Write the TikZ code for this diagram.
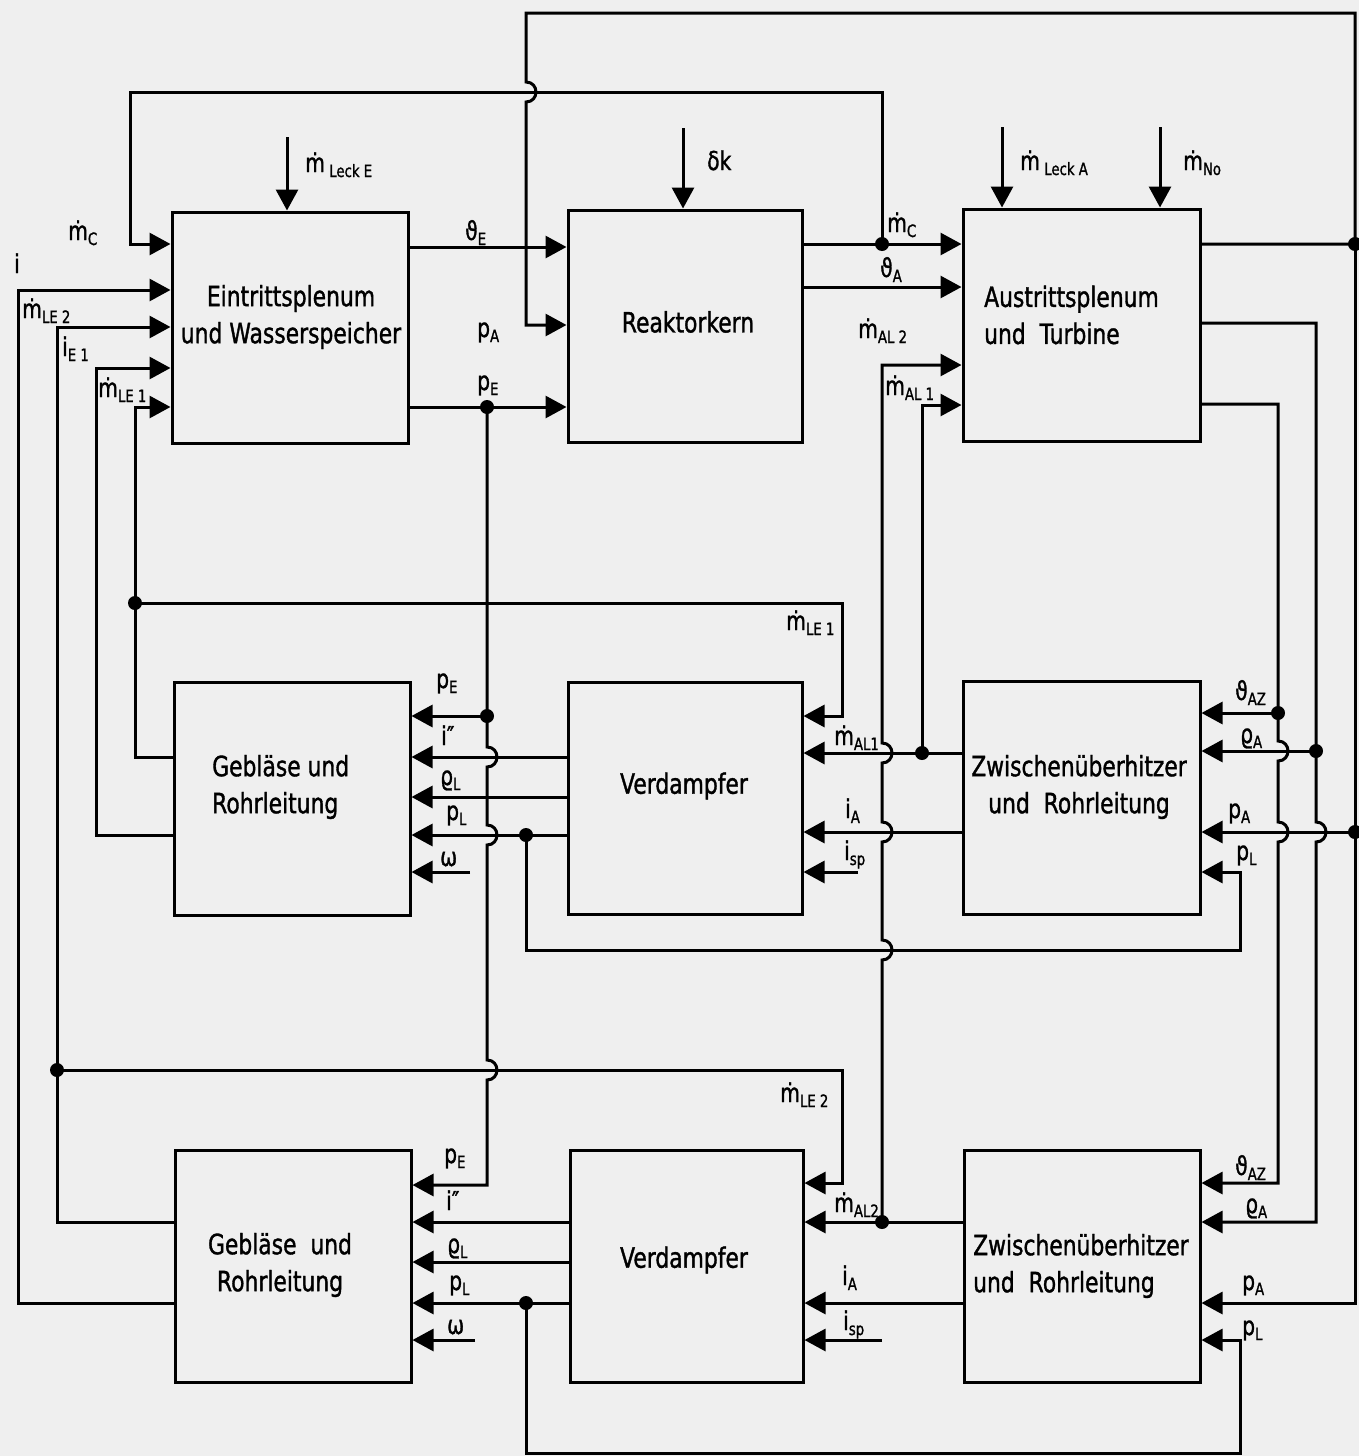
\documentclass[tikz,border=0pt]{standalone}
\usepackage{fontspec}
\setmainfont{DejaVu Sans}[FakeStretch=0.78,FakeBold=1.2]
\usetikzlibrary{arrows.meta}
\definecolor{bg}{RGB}{239,239,239}
\newcommand\sbs[1]{\raisebox{-5pt}{\fontsize{17}{17}\selectfont #1}}
\begin{document}
\begin{tikzpicture}[x=1pt,y=-1pt,
  wire/.style={line width=3pt},
  sig/.style={line width=3pt,-{Triangle[length=21pt,width=22pt]}},
  box/.style={draw,line width=3pt,fill=bg,inner sep=0pt},
  lab/.style={font=\fontsize{26}{26}\selectfont,inner sep=0pt,anchor=base west},
  btxt/.style={font=\fontsize{28}{37}\selectfont,inner sep=0pt,align=center},
  jdot/.style={fill=black},
]
\fill[bg] (0,0) rectangle (1359,1456);
\useasboundingbox (0,0) rectangle (1359,1456);

% boxes
\node[box,minimum width=236,minimum height=231] (E)  at (290,327.5) {};
\node[box,minimum width=234,minimum height=232] (R)  at (685,326) {};
\node[box,minimum width=237,minimum height=232] (A)  at (1081.5,325) {};
\node[box,minimum width=236,minimum height=233] (G1) at (292,798.5) {};
\node[box,minimum width=234,minimum height=232] (V1) at (685,798) {};
\node[box,minimum width=237,minimum height=233] (Z1) at (1081.5,797.5) {};
\node[box,minimum width=236,minimum height=232] (G2) at (293,1266) {};
\node[box,minimum width=233,minimum height=232] (V2) at (686.5,1266) {};
\node[box,minimum width=236,minimum height=232] (Z2) at (1082,1266) {};

% box texts
\node[btxt] (tE) at (291,317) {Eintrittsplenum\\und Wasserspeicher};
\node[btxt] (tR) at (688,322) {Reaktorkern};
\node[btxt,anchor=west,align=left] (tA) at (984,315) {Austrittsplenum\\und\ \ Turbine};
\node[btxt,anchor=west,align=left] (tG1) at (212,787) {Gebläse und\\Rohrleitung};
\node[btxt] (tV1) at (684,786) {Verdampfer};
\node[btxt] (tZ1) at (1079,787) {Zwischenüberhitzer\\und\ \ Rohrleitung};
\node[btxt] (tG2) at (280,1265) {Gebläse\ \ und\\Rohrleitung};
\node[btxt] (tV2) at (684,1260) {Verdampfer};
\node[btxt,anchor=west,align=left] (tZ2) at (973,1266) {Zwischenüberhitzer\\und\ \ Rohrleitung};

% free ends and junctions
\coordinate (sLE) at (287,137);
\coordinate (sdk) at (683,128);
\coordinate (sLA) at (1002,127);
\coordinate (sNo) at (1160,127);
\coordinate (w1) at (470,872);
\coordinate (w2) at (475,1340);
\coordinate (isp1) at (858,872);
\coordinate (isp2) at (882,1340);
\coordinate (jC) at (882,244);
\coordinate (jpE) at (487,407);
\coordinate (jpA) at (1355,244);
\coordinate (jLE1) at (135,603);
\coordinate (jLE2) at (57,1070);
\coordinate (jpE1) at (487,716);
\coordinate (jpL1) at (526,835);
\coordinate (jpL2) at (526,1303);
\coordinate (jAL1) at (922,753);
\coordinate (jAL2) at (882,1222);
\coordinate (jAZ1) at (1278,713);
\coordinate (jrA1) at (1316,751);
\coordinate (jpA1) at (1355,832);

% external inputs from top
\draw[sig] (sLE) -- (E.north -| sLE);
\draw[sig] (sdk) -- (R.north -| sdk);
\draw[sig] (sLA) -- (A.north -| sLA);
\draw[sig] (sNo) -- (A.north -| sNo);

% top row connections
\draw[sig] (E.east |- 0,247) -- (R.west |- 0,247);
\draw[sig] (E.east |- 0,407) -- (R.west |- 0,407);
\draw[sig] (R.east |- 0,244) -- (A.west |- 0,244);
\draw[sig] (R.east |- 0,287) -- (A.west |- 0,287);
\draw[sig] (jC) -- (882,92) -- (130,92) -- (130,244) -- (E.west |- 0,244);
\draw[sig] (A.east |- 0,244) -- (1355,244) -- (1355,13) -- (526,13) -- (526,82)
  .. controls (539.3,82) and (539.3,102) .. (526,102) -- (526,325) -- (R.west |- 0,325);

% right side feedback
\draw[sig] (jpA) -- (1355,1303) -- (Z2.east |- 0,1303);
\draw[sig] (jpA1) -- (Z1.east |- 0,832);
\draw[sig] (A.east |- 0,323) -- (1316,323) -- (1316,822)
  .. controls (1329.3,822) and (1329.3,842) .. (1316,842) -- (1316,1222) -- (Z2.east |- 0,1222);
\draw[sig] (jrA1) -- (Z1.east |- 0,751);
\draw[sig] (A.east |- 0,404) -- (1278,404) -- (1278,741)
  .. controls (1291.3,741) and (1291.3,761) .. (1278,761) -- (1278,822)
  .. controls (1291.3,822) and (1291.3,842) .. (1278,842) -- (1278,1183) -- (Z2.east |- 0,1183);
\draw[sig] (jAZ1) -- (Z1.east |- 0,713);
\draw[sig] (jpL1) -- (526,950) -- (1240,950) -- (1240,872) -- (Z1.east |- 0,872);
\draw[sig] (jpL2) -- (526,1453) -- (1240,1453) -- (1240,1340) -- (Z2.east |- 0,1340);

% Zwischenueberhitzer -> Verdampfer / Austrittsplenum
\draw[sig] (jAL2) -- (882,960) .. controls (895.3,960) and (895.3,940) .. (882,940)
  -- (882,842) .. controls (895.3,842) and (895.3,822) .. (882,822)
  -- (882,763) .. controls (895.3,763) and (895.3,743) .. (882,743)
  -- (882,365) -- (A.west |- 0,365);
\draw[sig] (Z2.west |- 0,1222) -- (V2.east |- 0,1222);
\draw[sig] (Z1.west |- 0,753) -- (V1.east |- 0,753);
\draw[sig] (jAL1) -- (922,405) -- (A.west |- 0,405);
\draw[sig] (Z1.west |- 0,832) -- (V1.east |- 0,832);
\draw[sig] (Z2.west |- 0,1303) -- (V2.east |- 0,1303);
\draw[sig] (isp1) -- (V1.east |- isp1);
\draw[sig] (isp2) -- (V2.east |- isp2);

% leakage mass flows
\draw[sig] (jLE1) -- (842,603) -- (842,716) -- (V1.east |- 0,716);
\draw[sig] (jLE2) -- (842,1070) -- (842,1183) -- (V2.east |- 0,1183);
\draw[sig] (G1.west |- 0,757) -- (135,757) -- (135,407) -- (E.west |- 0,407);
\draw[sig] (G1.west |- 0,835) -- (96,835) -- (96,368) -- (E.west |- 0,368);
\draw[sig] (G2.west |- 0,1222) -- (57,1222) -- (57,327) -- (E.west |- 0,327);
\draw[sig] (G2.west |- 0,1303) -- (18,1303) -- (18,290) -- (E.west |- 0,290);

% Verdampfer -> Geblaese
\draw[sig] (V1.west |- 0,757) -- (G1.east |- 0,757);
\draw[sig] (V1.west |- 0,797) -- (G1.east |- 0,797);
\draw[sig] (V1.west |- 0,835) -- (G1.east |- 0,835);
\draw[sig] (V2.west |- 0,1222) -- (G2.east |- 0,1222);
\draw[sig] (V2.west |- 0,1262) -- (G2.east |- 0,1262);
\draw[sig] (V2.west |- 0,1303) -- (G2.east |- 0,1303);
\draw[sig] (jpE) -- (487,747) .. controls (500.3,747) and (500.3,767) .. (487,767)
  -- (487,825) .. controls (500.3,825) and (500.3,845) .. (487,845)
  -- (487,1060) .. controls (500.3,1060) and (500.3,1080) .. (487,1080)
  -- (487,1185) -- (G2.east |- 0,1185);
\draw[sig] (jpE1) -- (G1.east |- 0,716);
\draw[sig] (w1) -- (G1.east |- w1);
\draw[sig] (w2) -- (G2.east |- w2);

% junction dots
\foreach \j in {jC,jpE,jpA,jLE1,jLE2,jpE1,jpL1,jpL2,jAL1,jAL2,jAZ1,jrA1,jpA1}
  \fill[jdot] (\j) circle[radius=7pt];

% labels
\node[lab] (l1) at (68,240) {ṁ\sbs{C}};
\node[lab] (l2) at (14,273) {i};
\node[lab] (l3) at (22,318) {ṁ\sbs{LE 2}};
\node[lab] (l4) at (62,356) {i\sbs{E 1}};
\node[lab] (l5) at (98,397) {ṁ\sbs{LE 1}};
\node[lab] (l6) at (305,172) {ṁ\,\sbs{Leck E}};
\node[lab] (l7) at (707,170) {δk};
\node[lab] (l8) at (1020,170) {ṁ\,\sbs{Leck A}};
\node[lab] (l9) at (1183,170) {ṁ\sbs{No}};
\node[lab] (l10) at (465,240) {ϑ\sbs{E}};
\node[lab] (l11) at (477,337) {p\sbs{A}};
\node[lab] (l12) at (477,390) {p\sbs{E}};
\node[lab] (l13) at (887,232) {ṁ\sbs{C}};
\node[lab] (l14) at (880,277) {ϑ\sbs{A}};
\node[lab] (l15) at (858,338) {ṁ\sbs{AL 2}};
\node[lab] (l16) at (885,395) {ṁ\sbs{AL 1}};
\node[lab] (l17) at (786,630) {ṁ\sbs{LE 1}};
\node[lab] (l18) at (436,688) {p\sbs{E}};
\node[lab] (l19) at (441,745) {i″};
\node[lab] (l20) at (440,785) {ϱ\sbs{L}};
\node[lab] (l21) at (446,820) {p\sbs{L}};
\node[lab] (l22) at (440,866) {ω};
\node[lab] (l23) at (834,745) {ṁ\sbs{AL1}};
\node[lab] (l24) at (845,818) {i\sbs{A}};
\node[lab] (l25) at (844,860) {i\sbs{sp}};
\node[lab] (l26) at (1235,700) {ϑ\sbs{AZ}};
\node[lab] (l27) at (1240,743) {ϱ\sbs{A}};
\node[lab] (l28) at (1228,818) {p\sbs{A}};
\node[lab] (l29) at (1236,860) {p\sbs{L}};
\node[lab] (l30) at (780,1102) {ṁ\sbs{LE 2}};
\node[lab] (l31) at (444,1163) {p\sbs{E}};
\node[lab] (l32) at (446,1210) {i″};
\node[lab] (l33) at (447,1253) {ϱ\sbs{L}};
\node[lab] (l34) at (449,1290) {p\sbs{L}};
\node[lab] (l35) at (447,1334) {ω};
\node[lab] (l36) at (834,1212) {ṁ\sbs{AL2}};
\node[lab] (l37) at (842,1285) {i\sbs{A}};
\node[lab] (l38) at (843,1330) {i\sbs{sp}};
\node[lab] (l39) at (1235,1175) {ϑ\sbs{AZ}};
\node[lab] (l40) at (1245,1213) {ϱ\sbs{A}};
\node[lab] (l41) at (1242,1290) {p\sbs{A}};
\node[lab] (l42) at (1242,1335) {p\sbs{L}};
\end{tikzpicture}
\end{document}
